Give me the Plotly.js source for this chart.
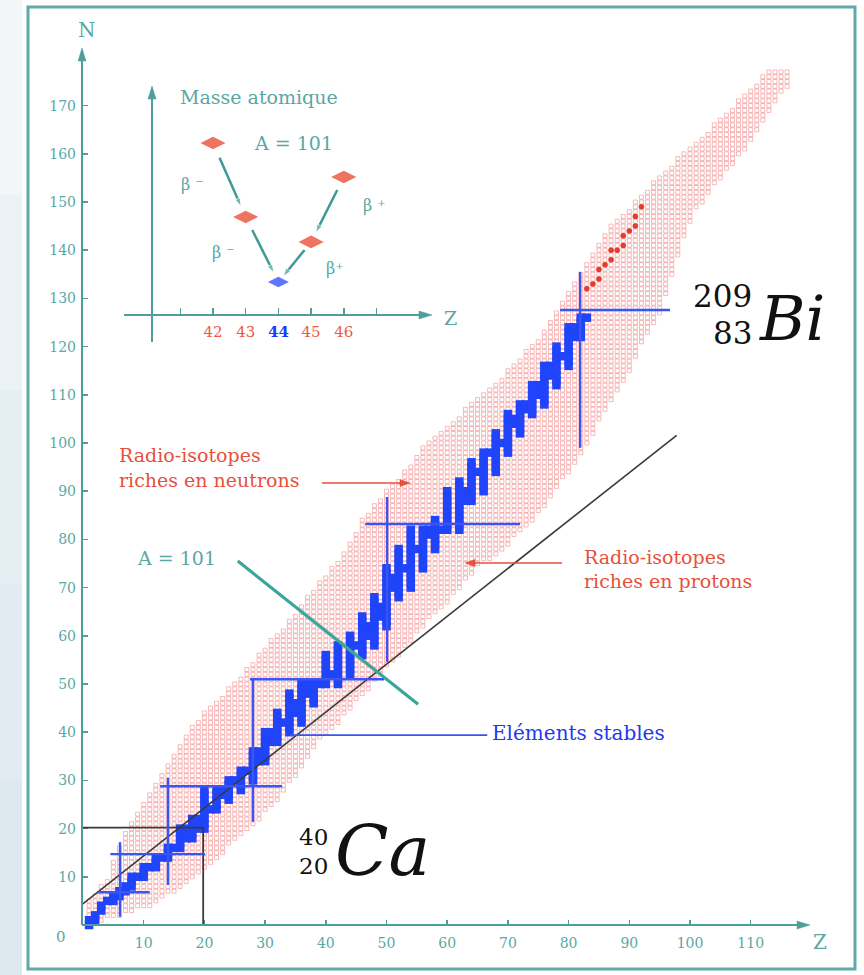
<!DOCTYPE html>
<html><head><meta charset="utf-8">
<script src="https://cdn.plot.ly/plotly-3.0.1.min.js"></script>
<style>html,body{margin:0;padding:0;background:#fff}#chart{width:864px;height:975px}</style>
</head><body><div id="chart"></div>
<script>
// ---------- DATA ----------
// Radio-isotope band: for each Z, lowest (proton-rich) and highest (neutron-rich) N
const bandZ = [];
for (let z = 1; z <= 116; z++) bandZ.push(z);
const bandNmin = [0,1,1,2,2,2,3,3,4,4,4,5,6,7,7,8,9,10,11,12,13,14,15,17,18,19,20,21,22,24,
  25,26,28,30,31,33,35,37,39,40,41,42,44,45,47,48,49,51,52,54,55,56,58,59,61,62,64,65,66,67,
  69,70,72,73,75,76,76,77,78,79,81,82,83,84,86,87,89,91,93,94,96,98,100,102,105,107,109,111,113,115,
  118,121,123,125,127,131,135,139,143,146,149,150,152,154,155,157,158,160,161,163,165,167,169,171,173,174];
const bandNmax = [5,6,8,9,13,16,19,21,23,25,27,29,31,33,35,37,39,41,42,44,45,46,47,49,50,51,53,54,56,57,
  59,60,61,63,64,66,68,69,71,72,74,75,77,79,81,84,85,87,88,90,91,92,94,95,97,99,100,101,102,103,
  104,105,107,108,109,110,111,112,113,115,116,117,119,120,121,123,125,127,129,131,133,135,137,139,141,143,145,146,147,148,
  150,151,152,154,155,156,157,159,160,161,162,163,164,166,167,168,169,171,172,173,174,176,177,177,177,177];

// Stable elements: for each Z, range of stable N
const stableZ    = [1,2,3,4,5,6,7,8,9,10,11,12,13,14,15,16,17,18,19,20,21,22,23,24,25,26,27,28,29,30,
  31,32,33,34,35,36,37,38,39,40,41,42,44,45,46,47,48,49,50,51,52,53,54,55,56,57,58,59,60,62,
  63,64,65,66,67,68,69,70,71,72,73,74,75,76,77,78,79,80,81,82,83];
const stableNmin = [0,1,3,5,5,6,7,8,10,10,12,12,14,14,16,16,18,18,20,20,24,24,27,26,30,28,32,30,34,34,
  38,38,42,40,44,42,48,46,50,50,52,50,52,58,56,60,58,64,62,70,68,74,70,78,74,81,78,82,82,82,
  88,88,94,90,98,94,100,98,104,102,107,106,110,108,114,112,118,116,122,122,126];
const stableNmax = [1,2,4,5,6,7,8,10,10,12,12,14,14,16,16,20,20,22,22,28,24,28,28,30,30,32,32,36,36,40,
  40,44,42,48,46,50,50,50,50,56,52,58,60,58,64,62,68,66,74,72,78,74,82,78,82,82,84,82,90,92,
  90,96,94,98,98,102,100,106,105,108,108,112,112,116,116,120,118,124,124,126,126];

// Long-lived heavy radio-isotopes (red dots)
const longLivedZ = [83,84,85,85,86,87,87,88,89,89,90,91,91,92];
const longLivedN = [132,133,134,136,137,138,140,140,141,143,144,145,147,149];

// Magic-number guide lines
const magicH = [ // N, Zfrom, Zto
  [6.8, 2.3, 11.0], [14.7, 4.5, 20.1], [28.8, 12.7, 32.8], [51.0, 27.5, 49.6],
  [83.2, 46.5, 72.0], [127.6, 78.6, 96.7]];
const magicV = [ // Z, Nfrom, Nto
  [6.1, 1.7, 17.2], [14.0, 8.3, 30.5], [28.0, 21.4, 51.0], [50.1, 54.6, 88.8], [81.9, 99.0, 135.5]];

const xTicks = [10,20,30,40,50,60,70,80,90,100,110];
const yTicks = [10,20,30,40,50,60,70,80,90,100,110,120,130,140,150,160,170];

// Inset: isobar A = 101
const insetZ = [42,43,44,45,46];
const insetMass = [7.58,4.32,1.45,3.22,6.08];
const insetStable = [false,false,true,false,false];
const insetDecays = [[0,1],[1,2],[4,3],[3,2]];
const insetExtraTicks = [41,47];

// ---------- STYLE / HELPERS ----------
const TEAL = '#4f9e9b', TEALTXT = '#5aa7a4', RED = '#e8503c', BLUE = '#2338f0';
const SERIF = 'DejaVu Serif';
const ML = 83, MB = 50, W = 864, H = 975;
const X = px => (px - ML) / (W - ML);
const Y = py => (H - MB - py) / (H - MB);

// expand band
const bx = [], by = [];
bandZ.forEach((z, i) => { for (let n = bandNmin[i]; n <= bandNmax[i]; n++) { bx.push(z); by.push(n); } });
const sx = [], sy = [];
stableZ.forEach((z, i) => { for (let n = stableNmin[i]; n <= stableNmax[i]; n++) { sx.push(z); sy.push(n); } });

const traces = [
  {x: bx, y: by, type: 'scatter', mode: 'markers', hoverinfo: 'skip', cliponaxis: false,
   marker: {symbol: 'square-open', size: 4, color: 'rgba(240,105,105,0.5)', line: {width: 0.9, color: 'rgba(240,105,105,0.5)'}}},
  {x: sx, y: sy, type: 'scatter', mode: 'markers', hoverinfo: 'skip', cliponaxis: false,
   marker: {symbol: 'square', size: 8.5, color: '#1f44fa'}},
  {x: longLivedZ, y: longLivedN, type: 'scatter', mode: 'markers', hoverinfo: 'skip',
   marker: {symbol: 'circle', size: 5.5, color: '#e63c2c'}},
  {x: insetZ, y: insetMass, xaxis: 'x2', yaxis: 'y2', type: 'scatter', mode: 'markers', hoverinfo: 'skip', cliponaxis: false,
   marker: {symbol: 'diamond-wide', size: insetStable.map(s => s ? 15 : 18),
            color: insetStable.map(s => s ? '#1a3cff' : '#e8381e'), line: {width: 0}}}
];
// inset decay arrows (drawn through the inset axes)
insetDecays.forEach(d => {
  const a = d[0], b = d[1], f0 = 0.2, f1 = 0.86;
  traces.push({xaxis: 'x2', yaxis: 'y2', type: 'scatter', mode: 'lines+markers', hoverinfo: 'skip', cliponaxis: false,
    x: [insetZ[a] + f0 * (insetZ[b] - insetZ[a]), insetZ[a] + f1 * (insetZ[b] - insetZ[a])],
    y: [insetMass[a] + f0 * (insetMass[b] - insetMass[a]), insetMass[a] + f1 * (insetMass[b] - insetMass[a])],
    line: {color: '#3f9a95', width: 2.5},
    marker: {symbol: 'arrow', size: [0, 9], angleref: 'previous', color: '#3f9a95'}});
});

const shapes = [];
// left background strip
['#f2f6f9','#ebf2f6','#e5eef3','#e1ebf1','#dde9ef'].forEach((c, i) => {
  shapes.push({type:'rect', xref:'paper', yref:'paper', x0:X(0), x1:X(22), y0:Y(195*(i+1)), y1:Y(195*i), fillcolor:c, line:{width:0}, layer:'below'});
});
// frame
shapes.push({type:'rect', xref:'paper', yref:'paper', x0:X(28), x1:X(855), y0:Y(969), y1:Y(7), line:{color:'#5fa9a8', width:3}});
// N = Z reference line (black) and Ca guide lines
shapes.push({type:'line', xref:'x', yref:'y', x0:-0.3, y0:4.1, x1:97.8, y1:101.6, line:{color:'#3a3a3a', width:1.6}, layer:'above'});
shapes.push({type:'line', xref:'x', yref:'y', x0:0, y0:20.2, x1:19.8, y1:20.2, line:{color:'#3a3a3a', width:1.8}, layer:'above'});
shapes.push({type:'line', xref:'x', yref:'y', x0:19.8, y0:20.2, x1:19.8, y1:0, line:{color:'#3a3a3a', width:1.8}, layer:'above'});
// magic lines
magicH.forEach(m => shapes.push({type:'line', xref:'x', yref:'y', x0:m[1], x1:m[2], y0:m[0], y1:m[0], line:{color:'#3b55f2', width:2.4}, layer:'above'}));
magicV.forEach(m => shapes.push({type:'line', xref:'x', yref:'y', x0:m[0], x1:m[0], y0:m[1], y1:m[2], line:{color:'#3b55f2', width:2.4}, layer:'above'}));
// isobar A = 101 line
shapes.push({type:'line', xref:'x', yref:'y', x0:25.5, y0:75.5, x1:55.2, y1:45.8, line:{color:'#3aa699', width:3.2}, layer:'above'});
// pointer for stable elements
shapes.push({type:'line', xref:'x', yref:'y', x0:34.1, x1:66.6, y0:39.4, y1:39.4, line:{color:'#3b55f2', width:1.6}, layer:'above'});

// arrow = line + triangular head (pixel geometry for decorations)
function arrowShape(x0, y0, x1, y1, color, width, len, hw) {
  const dx = x1 - x0, dy = y1 - y0, L = Math.hypot(dx, dy), ux = dx / L, uy = dy / L;
  const bxp = x1 - len * ux, byp = y1 - len * uy, nx = -uy, ny = ux;
  shapes.push({type:'line', xref:'paper', yref:'paper', x0:X(x0), y0:Y(y0), x1:X(bxp + ux), y1:Y(byp + uy), line:{color, width}, layer:'above'});
  shapes.push({type:'path', xref:'paper', yref:'paper', layer:'above', fillcolor:color, line:{color, width:0.5},
    path:'M' + X(x1) + ',' + Y(y1) + ' L' + X(bxp + hw * nx) + ',' + Y(byp + hw * ny) + ' L' + X(bxp - hw * nx) + ',' + Y(byp - hw * ny) + ' Z'});
}
arrowShape(82, 925, 810, 925, TEAL, 2, 13, 4);   // main Z axis
arrowShape(82, 925, 82, 48, TEAL, 2, 13, 4);     // main N axis
arrowShape(124, 315, 432, 315, TEAL, 2, 13, 4);  // inset Z axis
arrowShape(152, 342, 152, 86, TEAL, 2, 13, 4);   // inset mass axis
arrowShape(322, 483, 410, 483, RED, 1.5, 10, 3.5);
arrowShape(562, 563, 465, 563, RED, 1.5, 10, 3.5);

const ann = [];
const txt = (text, px, py, o) => ann.push(Object.assign({text, x:X(px), y:Y(py), xref:'paper', yref:'paper', showarrow:false,
  xanchor:'center', yanchor:'middle', font:{family:SERIF, size:19, color:TEALTXT}}, o || {}));

txt('N', 87, 30, {font:{family:SERIF, size:20, color:TEALTXT}});
txt('Z', 820, 942, {font:{family:SERIF, size:20, color:TEALTXT}});
txt('0', 61, 937, {font:{family:SERIF, size:15, color:TEALTXT}});
txt('Z', 450, 318, {font:{family:SERIF, size:19, color:TEALTXT}});
txt('Masse atomique', 178, 97, {xanchor:'left'});
txt('A = 101', 252, 143, {xanchor:'left'});
txt('β ⁻', 192, 185, {font:{family:SERIF, size:16, color:TEALTXT}});
txt('β ⁻', 223, 253, {font:{family:SERIF, size:16, color:TEALTXT}});
txt('β ⁺', 374, 206, {font:{family:SERIF, size:16, color:TEALTXT}});
txt('β⁺', 335, 268, {font:{family:SERIF, size:16, color:TEALTXT}});
// main labels
txt('Radio-isotopes', 117, 455, {xanchor:'left', font:{family:SERIF, size:19, color:RED}});
txt('riches en neutrons', 117, 480, {xanchor:'left', font:{family:SERIF, size:19, color:RED}});
txt('Radio-isotopes', 582, 557, {xanchor:'left', font:{family:SERIF, size:19, color:RED}});
txt('riches en protons', 582, 581, {xanchor:'left', font:{family:SERIF, size:19, color:RED}});
txt('A = 101', 135, 558, {xanchor:'left'});
txt('Eléments stables', 490, 733, {xanchor:'left', font:{family:SERIF, size:20, color:BLUE}});
// nuclide symbols (stacked mass / atomic numbers)
txt('209', 754, 296, {xanchor:'right', font:{family:SERIF, size:31, color:'#111'}});
txt('83', 754, 333, {xanchor:'right', font:{family:SERIF, size:31, color:'#111'}});
txt('Bi', 757, 318, {xanchor:'left', font:{family:SERIF, size:62, color:'#111', style:'italic'}});
txt('40', 330, 837, {xanchor:'right', font:{family:SERIF, size:23, color:'#111'}});
txt('20', 330, 866, {xanchor:'right', font:{family:SERIF, size:23, color:'#111'}});
txt('Ca', 333, 851, {xanchor:'left', font:{family:SERIF, size:70, color:'#111', style:'italic'}});

const layout = {
  width: W, height: H, margin: {l: ML, r: 0, t: 0, b: MB, pad: 0},
  paper_bgcolor: '#fff', plot_bgcolor: 'rgba(0,0,0,0)', showlegend: false,
  xaxis: {range: [0, (W - ML) / 6.07], showgrid: false, zeroline: false, showline: false,
    tickvals: xTicks, ticks: 'inside', ticklen: 5, tickwidth: 1.5, tickcolor: TEAL, ticklabelstandoff: 8,
    tickfont: {family: SERIF, size: 14, color: TEALTXT}, fixedrange: true},
  yaxis: {range: [0, (H - MB) / 4.82], showgrid: false, zeroline: false, showline: false,
    tickvals: yTicks, ticks: 'inside', ticklen: 5, tickwidth: 1.5, tickcolor: TEAL, ticklabelstandoff: 6,
    tickfont: {family: SERIF, size: 14, color: TEALTXT}, fixedrange: true},
  xaxis2: {domain: [X(124), X(428)], anchor: 'y2', range: [39.278, 48.575], showgrid: false, zeroline: false, showline: false,
    tickvals: insetZ,
    ticktext: insetZ.map((t, i) => insetStable[i] ? '<span style="color:#1a3cff"><b>' + t + '</b></span>' : '<span style="color:#ea5a45">' + t + '</span>'),
    ticks: 'inside', ticklen: 7, tickwidth: 1.5, tickcolor: TEAL, ticklabelstandoff: 6,
    minor: {tickvals: insetExtraTicks, ticks: 'inside', ticklen: 7, tickwidth: 1.5, tickcolor: TEAL, showgrid: false},
    tickfont: {family: SERIF, size: 15, color: TEALTXT}, fixedrange: true},
  yaxis2: {domain: [Y(315), Y(88)], anchor: 'x2', range: [0, 10], visible: false, fixedrange: true},
  shapes, annotations: ann
};
Plotly.newPlot('chart', traces, layout, {displayModeBar: false, staticPlot: true}).then(gd => {
  // drop empty placeholder text nodes (untitled axes / title)
  gd.querySelectorAll('text').forEach(t => { if (!t.textContent.trim()) t.remove(); });
});
</script></body></html>
